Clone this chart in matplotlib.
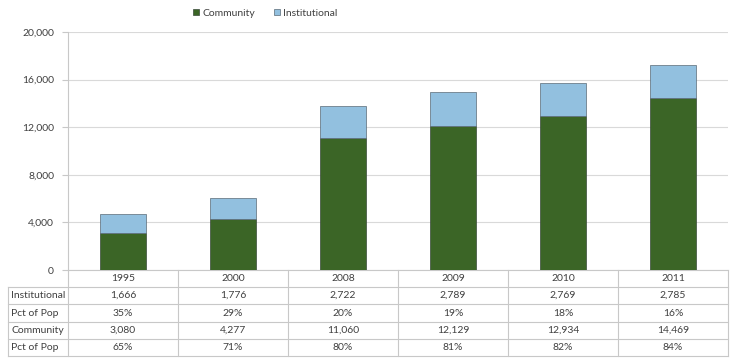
import matplotlib
matplotlib.use("Agg")
import matplotlib.pyplot as plt
from matplotlib.transforms import blended_transform_factory
from matplotlib.patches import Patch

plt.rcParams['font.family'] = ['Lato', 'DejaVu Sans']

years = ["1995", "2000", "2008", "2009", "2010", "2011"]
community = [3080, 4277, 11060, 12129, 12934, 14469]
institutional = [1666, 1776, 2722, 2789, 2769, 2785]
inst_pct = ["35%", "29%", "20%", "19%", "18%", "16%"]
comm_pct = ["65%", "71%", "80%", "81%", "82%", "84%"]
row_labels = ["Institutional", "Pct of Pop", "Community", "Pct of Pop"]

green = "#3b6526"
blue = "#92c0df"
txt = "#404040"
line_c = "#c8c8c8"

W, H = 736, 362
fig = plt.figure(figsize=(W / 100, H / 100), dpi=100)
ax = fig.add_axes([68 / W, (H - 270) / H, (728 - 68) / W, (270 - 32) / H])

x = range(len(years))
ax.bar(x, community, width=0.41, color=green, edgecolor="#3a4a3a", linewidth=0.5, zorder=3)
ax.bar(x, institutional, width=0.41, bottom=community, color=blue,
       edgecolor="#5a6a76", linewidth=0.5, zorder=3)

ax.set_xlim(-0.5, len(years) - 0.5)
ax.set_ylim(0, 20000)
ax.set_yticks(range(0, 20001, 4000))
ax.set_yticklabels([f"{v:,}" for v in range(0, 20001, 4000)], fontsize=7.5, color=txt)
ax.set_xticks([])
ax.tick_params(axis="y", length=4, color=line_c, pad=6)
ax.grid(axis="y", color="#d9d9d9", linewidth=0.8, zorder=0)
for s in ["top", "right", "bottom"]:
    ax.spines[s].set_visible(False)
ax.spines["left"].set_color(line_c)

# table below the chart
tr = blended_transform_factory(ax.transData, fig.transFigure)
row_y = [270, 287, 304, 322, 339, 356]  # pixel rows from top
fy = [(H - v) / H for v in row_y]
rows = [years, [f"{v:,}" for v in institutional], inst_pct,
        [f"{v:,}" for v in community], comm_pct]

# horizontal lines
ax.plot([-0.5, 5.5], [fy[0], fy[0]], color=line_c, lw=0.8, transform=tr, clip_on=False)
for yy in fy[1:]:
    fig.add_artist(plt.Line2D([8 / W, 728 / W], [yy, yy], color=line_c, lw=0.8))
# vertical lines
for i in range(len(years) + 1):
    ax.plot([i - 0.5, i - 0.5], [fy[0], fy[-1]], color=line_c, lw=0.8,
            transform=tr, clip_on=False)
fig.add_artist(plt.Line2D([8 / W, 8 / W], [fy[1], fy[-1]], color=line_c, lw=0.8))

for r, vals in enumerate(rows):
    yc = (fy[r] + fy[r + 1]) / 2
    for i, v in enumerate(vals):
        ax.text(i, yc, v, transform=tr, ha="center", va="center", fontsize=7.5, color=txt)
    if r > 0:
        fig.text(11 / W, yc, row_labels[r - 1], ha="left", va="center", fontsize=7.5, color=txt)

handles = [Patch(facecolor=green, edgecolor="#3a4a3a", linewidth=0.5),
           Patch(facecolor=blue, edgecolor="#5a6a76", linewidth=0.5)]
fig.legend(handles, ["Community", "Institutional"], loc="center",
           bbox_to_anchor=(265 / W, (H - 13) / H), ncol=2, frameon=False,
           fontsize=7.5, handlelength=0.6, handleheight=0.6, handletextpad=0.3,
           columnspacing=1.8, labelcolor=txt)

fig.savefig("out.png", dpi=100)
